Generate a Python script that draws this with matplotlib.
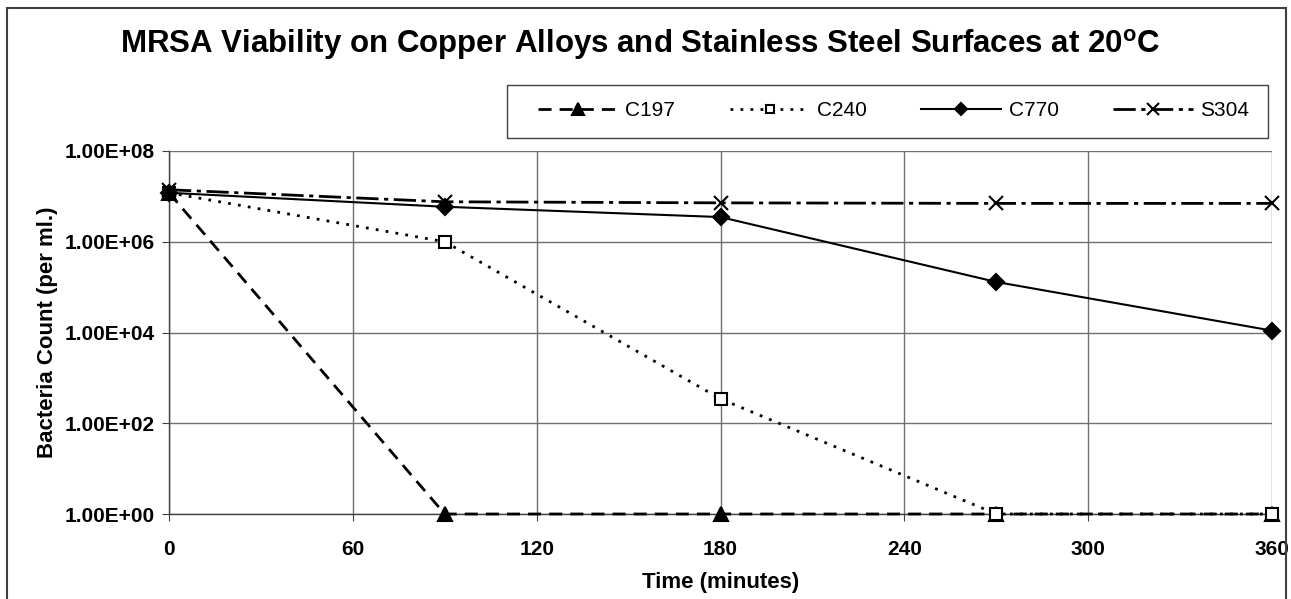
import matplotlib
matplotlib.use('Agg')
from matplotlib import pyplot as plt
from matplotlib.patches import Rectangle
from matplotlib.ticker import FixedLocator, FuncFormatter, NullLocator

plt.rcParams['font.family'] = ['Liberation Sans', 'DejaVu Sans']
plt.rcParams['mathtext.fontset'] = 'custom'
plt.rcParams['mathtext.bf'] = 'Liberation Sans:bold'
plt.rcParams['mathtext.rm'] = 'Liberation Sans'

# data
time = [0, 90, 180, 270, 360]
c197 = [1.2e7, 1, 1, 1, 1]
c240 = [1.2e7, 1.0e6, 345, 1, 1]
c770 = [1.2e7, 5.9e6, 3.5e6, 1.3e5, 1.1e4]
s304 = [1.4e7, 7.6e6, 7.2e6, 7.0e6, 7.0e6]

x_ticks = [0, 60, 120, 180, 240, 300, 360]
y_ticks = [1e0, 1e2, 1e4, 1e6, 1e8]

W, H = 1291, 599
fig = plt.figure(figsize=(12.91, 5.99), dpi=100)
ax = fig.add_axes([169/W, 1-514/H, (1272-169)/W, (514-151)/H])

# series: name, values, marker, markersize, face, dashes, lw
series = [
	('C197', c197, '^', 10, 'black', (4.7, 2.9), 2.0),
	('C240', c240, 's', 8, 'white', (1.0, 2.6), 2.0),
	('C770', c770, 'D', 8, 'black', None, 1.5),
	('S304', s304, 'x', 10, 'black', (8, 2, 1.5, 2), 2.0),
]
for name, vals, mk, ms, fc, dash, lw in series:
	ln, = ax.plot(time, vals, color='black', lw=lw, marker=mk, markersize=ms,
		markerfacecolor=fc, markeredgecolor='black', markeredgewidth=1.5,
		label=name, clip_on=False, zorder=3)
	if dash is not None:
		ln.set_dashes(dash)

ax.set_yscale('log')
ax.set_xlim(0, 360)
ax.set_ylim(1, 1e8)
ax.xaxis.set_major_locator(FixedLocator(x_ticks))
ax.yaxis.set_major_locator(FixedLocator(y_ticks))
ax.yaxis.set_minor_locator(NullLocator())
ax.yaxis.set_major_formatter(FuncFormatter(lambda v, p: '%.2E' % v))
ax.grid(True, color='#707070', lw=1)
ax.set_axisbelow(True)
for s in ['top', 'right']:
	ax.spines[s].set_visible(False)
for s in ['left', 'bottom']:
	ax.spines[s].set_color('#404040')
	ax.spines[s].set_linewidth(1)
ax.tick_params(axis='both', direction='out', length=5, color='#404040',
	labelsize=15, pad=5)
for lab in ax.get_xticklabels() + ax.get_yticklabels():
	lab.set_fontweight('bold')
ax.tick_params(axis='x', pad=14)

ax.set_xlabel('Time (minutes)', fontsize=16, fontweight='bold', labelpad=9)
ax.set_ylabel('Bacteria Count (per ml.)', fontsize=16, fontweight='bold', labelpad=5)

fig.text(0.496, 1-45/H, r'MRSA Viability on Copper Alloys and Stainless Steel Surfaces at 20$^{\mathbf{o}}$C',
	ha='center', va='center', fontsize=22.5, fontweight='bold')

leg = fig.legend(loc='center left', ncol=4, bbox_to_anchor=(538/W, 1-111/H),
	fontsize=15, frameon=False, handlelength=3.85, handletextpad=0.35,
	columnspacing=2.6, numpoints=1, borderaxespad=0, borderpad=0)
for h in leg.legend_handles:
	h.set_markersize(h.get_markersize()*0.8)

# legend box
fig.patches.append(Rectangle((507/W, 1-138/H), (1268-507)/W, 53/H,
	transform=fig.transFigure, fill=False, edgecolor='#404040', lw=1))

# outer chart frame
fig.patches.append(Rectangle((7/W, -0.1), (1286-7)/W, 1.1-8/H,
	transform=fig.transFigure, fill=False, edgecolor='#404040', lw=1.5))

fig.savefig('out.png', dpi=100)
